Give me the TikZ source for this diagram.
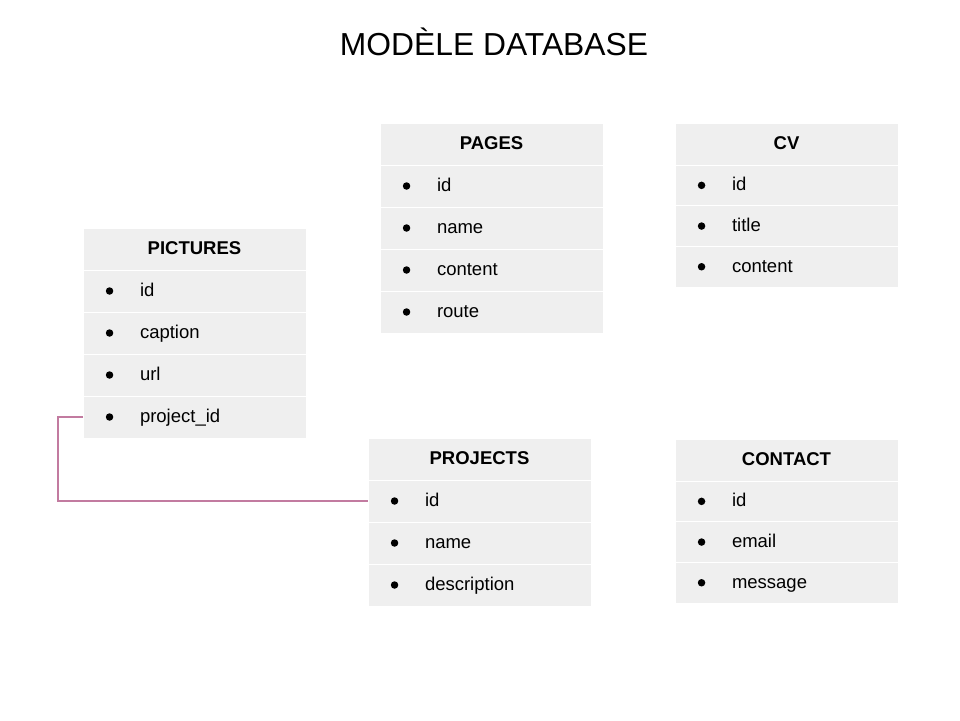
\documentclass[tikz,border=0pt]{standalone}
\usepackage{fontspec}
\setmainfont{Liberation Sans}
\usepackage{tikz}
\definecolor{tablegray}{HTML}{EFEFEF}
\definecolor{linkpink}{HTML}{C27BA0}
\usetikzlibrary{positioning}

\begin{document}
\begin{tikzpicture}[x=1pt,y=-1pt,
    head/.style={rectangle, fill=tablegray, draw=white, line width=0.7pt, outer sep=0pt, anchor=north west,
        minimum width=223pt, minimum height=42pt, text width=200pt, align=center,
        text height=14pt, text depth=3pt, font=\fontsize{18.5}{22}\selectfont\bfseries},
    field/.style={rectangle, fill=tablegray, draw=white, line width=0.7pt, outer sep=0pt,
        minimum width=223pt, minimum height=42pt, inner xsep=57pt, text width=109pt, align=left,
        text height=14pt, text depth=3pt, font=\fontsize{18.5}{22}\selectfont,
        label={[bulletdot, xshift=30.5pt]west:{}}},
    lowrow/.style={minimum height=40.7pt},
    bulletdot/.style={circle, fill=black, inner sep=0pt, minimum size=7.5pt},
    link/.style={draw=linkpink, line width=2.5pt}
]
\useasboundingbox (0,0) rectangle (960,720);

\node[font=\fontsize{31.8}{36}\selectfont, anchor=base] (title) at (494,55) {MODÈLE DATABASE};

% pictures
\node[head] (pictures) at (83,228) {PICTURES};
\node[field, below=0pt of pictures] (pic-id) {id};
\node[field, below=0pt of pic-id] (pic-caption) {caption};
\node[field, below=0pt of pic-caption] (pic-url) {url};
\node[field, below=0pt of pic-url] (pic-project) {project\_id};

% pages
\node[head] (pages) at (380,123) {PAGES};
\node[field, below=0pt of pages] (pages-id) {id};
\node[field, below=0pt of pages-id] (pages-name) {name};
\node[field, below=0pt of pages-name] (pages-content) {content};
\node[field, below=0pt of pages-content] (pages-route) {route};

% cv
\node[head] (cv) at (675,123) {CV};
\node[field, lowrow, below=0pt of cv] (cv-id) {id};
\node[field, lowrow, below=0pt of cv-id] (cv-title) {title};
\node[field, lowrow, below=0pt of cv-title] (cv-content) {content};

% projects
\node[head] (projects) at (368,438) {PROJECTS};
\node[field, below=0pt of projects] (proj-id) {id};
\node[field, below=0pt of proj-id] (proj-name) {name};
\node[field, below=0pt of proj-name] (proj-description) {description};

% contact
\node[head] (contact) at (675,439) {CONTACT};
\node[field, lowrow, below=0pt of contact] (contact-id) {id};
\node[field, lowrow, below=0pt of contact-id] (contact-email) {email};
\node[field, lowrow, below=0pt of contact-email] (contact-message) {message};

% pictures.project_id -> projects.id
\draw[link] (pic-project.west) -- ++(-25,0) |- (proj-id.west);
\end{tikzpicture}
\end{document}
